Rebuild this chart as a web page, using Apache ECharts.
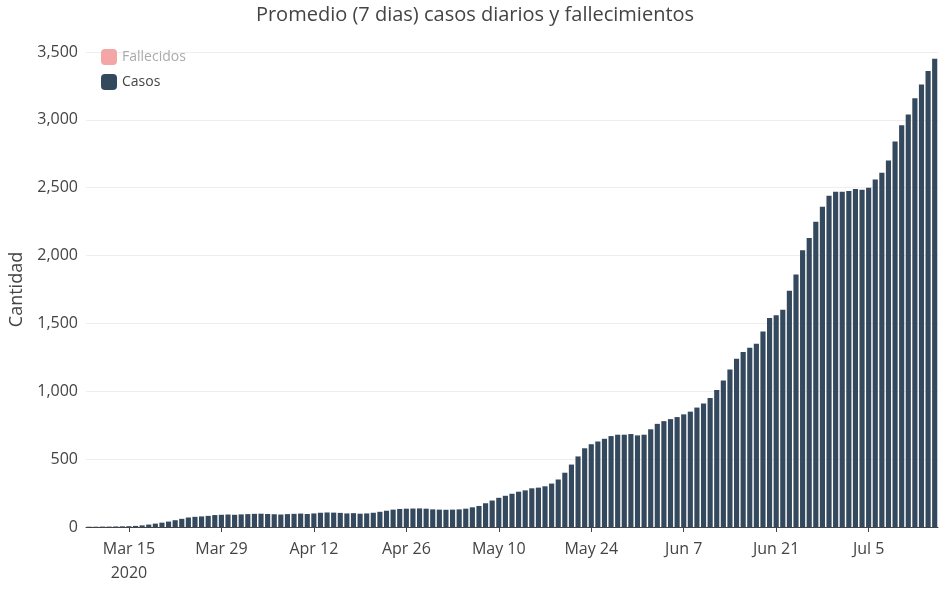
<!DOCTYPE html>
<html><head><meta charset="utf-8">
<script src="https://cdn.jsdelivr.net/npm/echarts@6/dist/echarts.min.js"></script>
<style>html,body{margin:0;padding:0;background:#fff}#c{width:950px;height:611px}</style>
</head><body><div id="c"></div>
<script>
const startDate = '2020-03-09';
const casos = [
2,2,3,3,4,5,6,
8,12,18,25,32,40,50,
60,70,75,78,82,88,90,
92,90,93,95,97,98,96,
94,92,95,97,99,96,100,
105,107,106,104,100,102,98,
100,105,112,120,128,133,135,
136,137,135,130,128,127,128,
130,135,145,155,175,195,215,
230,245,260,270,285,290,300,
320,350,400,460,520,580,610,
630,650,670,680,680,685,675,
680,720,760,780,795,810,830,
850,880,910,950,1010,1080,1160,
1240,1290,1320,1350,1440,1540,1560,
1600,1740,1860,2040,2130,2250,2360,
2440,2470,2470,2475,2490,2485,2500,
2560,2610,2700,2840,2960,3040,3160,
3260,3360,3450];
const fallecidos = [];
const months = ['Jan','Feb','Mar','Apr','May','Jun','Jul','Aug'];
const dates = [];
const d0 = new Date(startDate + 'T00:00:00Z');
for (let i = 0; i < casos.length; i++) {
  const d = new Date(d0.getTime() + i * 86400000);
  dates.push(months[d.getUTCMonth()] + ' ' + d.getUTCDate());
}
const firstTick = 6;
const chart = echarts.init(document.getElementById('c'));
chart.setOption({
  animation: false,
  title: {text: 'Promedio (7 dias) casos diarios y fallecimientos', left: 'center', top: 0,
    textStyle: {fontFamily: 'Open Sans', fontSize: 20, fontWeight: 'normal', color: '#444'}},
  legend: {orient: 'vertical', left: 96, top: 44, itemWidth: 16, itemHeight: 16, itemGap: 9,
    textStyle: {fontFamily: 'Open Sans', fontSize: 14, color: '#444'},
    data: [{name: 'Fallecidos', textStyle: {color: '#aaa'}}, 'Casos']},
  grid: {left: 83, right: 12, top: 52, bottom: 84},
  xAxis: {type: 'category', data: dates,
    axisLine: {lineStyle: {color: '#444'}}, axisTick: {show: true, alignWithLabel: true, interval: (i) => i >= firstTick && (i - firstTick) % 14 === 0, lineStyle: {color: '#444'}, length: 5},
    axisLabel: {interval: (i) => i >= firstTick && (i - firstTick) % 14 === 0, fontFamily: 'Open Sans', fontSize: 16, color: '#444', margin: 10,
      formatter: (v, i) => i === firstTick ? v + '\n2020' : v, lineHeight: 24}},
  yAxis: {type: 'value', min: 0, max: 3500, interval: 500, name: 'Cantidad', nameLocation: 'middle', nameGap: 60,
    nameTextStyle: {fontFamily: 'Open Sans', fontSize: 18, color: '#444'},
    axisLabel: {fontFamily: 'Open Sans', fontSize: 16, color: '#444'},
    splitLine: {lineStyle: {color: '#eee'}}},
  series: [
    {name: 'Fallecidos', type: 'bar', data: fallecidos, itemStyle: {color: '#f4a6a6'}},
    {name: 'Casos', type: 'bar', data: casos, barGap: '-100%', barCategoryGap: '22%', itemStyle: {color: '#34495e'}}
  ]
});
</script></body></html>
